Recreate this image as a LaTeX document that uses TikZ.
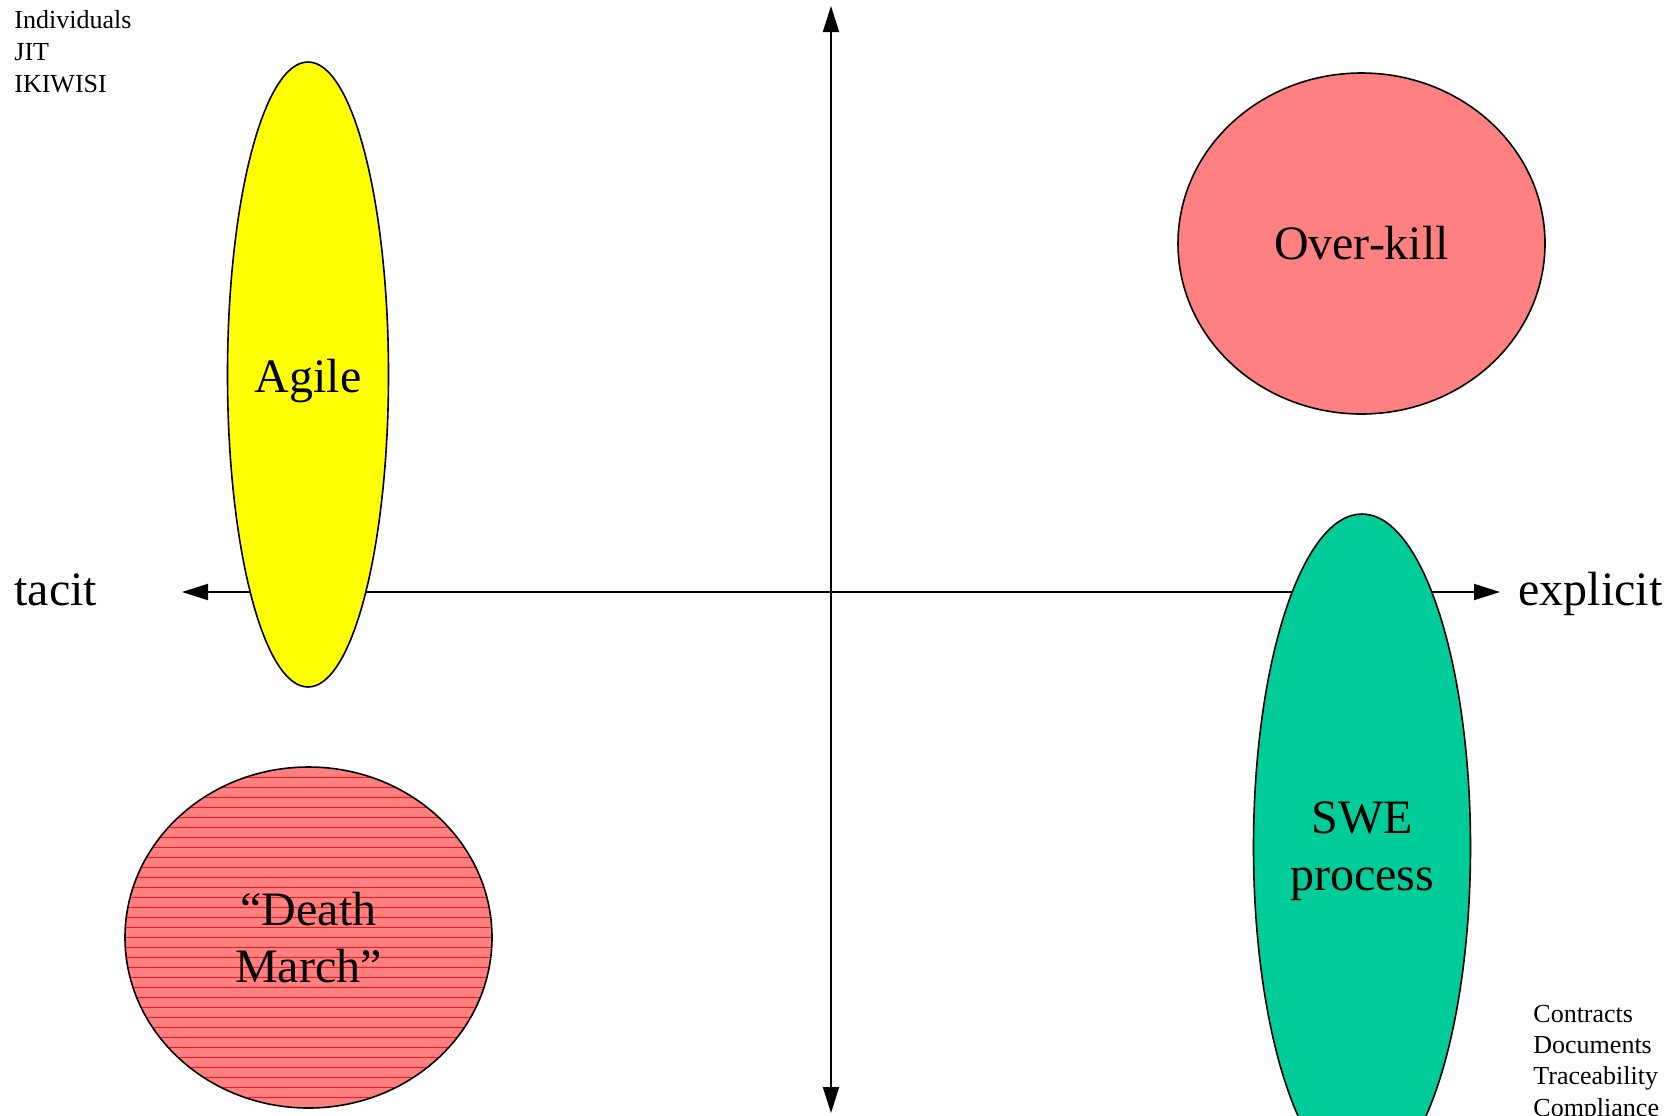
\documentclass[tikz,border=0pt]{standalone}
\usepackage{fontspec}
\setmainfont{Liberation Serif}
\usetikzlibrary{arrows.meta,shapes.geometric}
\definecolor{agileyellow}{RGB}{255,255,0}
\definecolor{salmon}{RGB}{255,128,128}
\definecolor{swegreen}{RGB}{0,204,153}
\begin{document}
\begin{tikzpicture}[x=0.5pt,y=-0.5pt,
  >={Triangle[length=13pt,width=8pt]},
  axis/.style={line width=1pt,<->},
  blob/.style={ellipse,draw=black,line width=0.8pt,inner sep=0pt,outer sep=0pt,
    align=center,font=\fontsize{24}{28.5}\selectfont},
  hatched/.style={path picture={
    \foreach \k in {-18,...,18}
      \draw[red!85!salmon,line width=0.4pt]
        ([yshift=\k*5pt]path picture bounding box.west) --
        ([yshift=\k*5pt]path picture bounding box.east);}},
  small/.style={font=\fontsize{13}{15}\selectfont,inner sep=0pt,anchor=base west},
  big/.style={font=\fontsize{24}{28.5}\selectfont,inner sep=0pt,anchor=base west},
  inlabel/.style={font=\fontsize{24}{28.5}\selectfont,inner sep=0pt,align=center}]
\useasboundingbox (0,0) rectangle (1672,1115);

% axes
\coordinate (up) at (831,6);
\coordinate (down) at (831,1113);
\coordinate (left) at (182,592);
\coordinate (right) at (1500,592);
\draw[axis] (down) -- (up);
\draw[axis] (left) -- (right);

% regions
\node[blob,fill=agileyellow,minimum width=80.5pt,minimum height=312.5pt] (agile) at (308,374.5) {};
\node[inlabel] (agiletext) at (308,381) {Agile};
\node[blob,fill=salmon,minimum width=183.5pt,minimum height=170.5pt] (overkill) at (1361.5,243.5) {Over-kill};
\node[blob,fill=salmon,hatched,minimum width=183.5pt,minimum height=170.5pt] (death) at (308.5,937.5) {“Death\\March”};
\node[blob,fill=swegreen,minimum width=108.5pt,minimum height=333pt] (swe) at (1362,847) {};
\node[inlabel] (swetext) at (1362,851.5) {SWE\\process};

% axis labels
\node[big] (tacit) at (14,605) {tacit};
\node[big] (explicit) at (1518,605) {explicit};

% corner notes
\node[small] (ind) at (14,28) {Individuals};
\node[small] (jit) at (14,60) {JIT};
\node[small] (ikiwisi) at (14,92) {IKIWISI};
\node[small] (contracts) at (1533,1022) {Contracts};
\node[small] (documents) at (1533,1053) {Documents};
\node[small] (trace) at (1533,1084) {Traceability};
\node[small] (compliance) at (1533,1116) {Compliance};
\end{tikzpicture}
\end{document}
